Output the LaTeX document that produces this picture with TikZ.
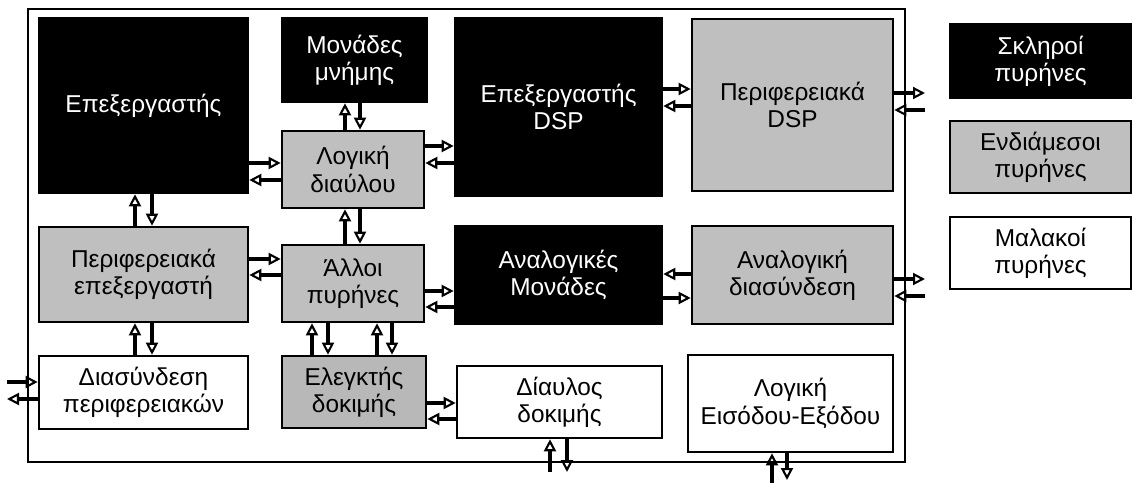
\documentclass[tikz,border=0pt]{standalone}
\usepackage{fontspec}
\setmainfont{Liberation Sans}
\usetikzlibrary{arrows.meta}

\begin{document}
\begin{tikzpicture}[x=0.5pt, y=-0.5pt,
    every node/.style={font=\fontsize{12.2}{13.6}\selectfont, align=center, inner sep=0pt},
    core/.style={draw=black, line width=1.3pt, rectangle},
    hard/.style={core, fill=black, text=white},
    mid/.style={core, fill=black!25},
    soft/.style={core, fill=white},
    arr/.style={line width=1.6pt, -{Triangle[open, length=6pt, width=6pt, line width=1.05pt]}}]
    \useasboundingbox (0,0) rectangle (1132,483);
    \draw[line width=0.8pt] (28,9) rectangle (905,462);
    % blocks
    \node[hard, minimum width=104.5pt, minimum height=87.5pt] (cpu) at (143.5,105.5) {Επεξεργαστής};
    \node[hard, minimum width=72.5pt, minimum height=42pt] (mem) at (354.5,60) {Μονάδες\\μνήμης};
    \node[mid, minimum width=71pt, minimum height=38.5pt] (bus) at (353,169.5) {Λογική\\διαύλου};
    \node[hard, minimum width=103.5pt, minimum height=89pt] (dsp) at (558.5,107) {Επεξεργαστής\\DSP};
    \node[mid, minimum width=100.5pt, minimum height=86pt] (pdsp) at (792.5,105) {Περιφερειακά\\DSP};
    \node[mid, minimum width=104.5pt, minimum height=47.5pt] (pcpu) at (143.5,274.5) {Περιφερειακά\\επεξεργαστή};
    \node[mid, minimum width=71pt, minimum height=38.5pt] (other) at (353,283.5) {Άλλοι\\πυρήνες};
    \node[hard, minimum width=103.5pt, minimum height=49pt] (ana) at (558.5,275) {Αναλογικές\\Μονάδες};
    \node[mid, minimum width=100.5pt, minimum height=49pt] (aif) at (792.5,275) {Αναλογική\\διασύνδεση};
    \node[soft, minimum width=104.5pt, minimum height=36.5pt] (pif) at (143.5,392.5) {Διασύνδεση\\περιφερειακών};
    \node[mid, fill=black!28, minimum width=72pt, minimum height=36pt] (tctl) at (354,392) {Ελεγκτής\\δοκιμής};
    \node[soft, minimum width=102.5pt, minimum height=36pt] (tbus) at (559.5,402) {Δίαυλος\\δοκιμής};
    \node[soft, minimum width=102.5pt, minimum height=48.5pt] (io) at (790.5,403.5) {Λογική\\Εισόδου-Εξόδου};
    % legend
    \node[hard, minimum width=90.5pt, minimum height=37pt] (lhard) at (1040.5,61) {Σκληροί\\πυρήνες};
    \node[mid, minimum width=90.5pt, minimum height=36pt] (lmid) at (1040.5,157) {Ενδιάμεσοι\\πυρήνες};
    \node[soft, minimum width=90.5pt, minimum height=36pt] (lsoft) at (1040.5,253) {Μαλακοί\\πυρήνες};
    % free ends
    \coordinate (rout) at (925,0);
    \coordinate (lout) at (7,0);
    \coordinate (tbend) at (0,472);
    \coordinate (ioend) at (0,483);
    % horizontal links
    \draw[arr] (cpu.east |- 0,163) -- (bus.west |- 0,163);
    \draw[arr] (bus.west |- 0,180) -- (cpu.east |- 0,180);
    \draw[arr] (bus.east |- 0,146) -- (dsp.west |- 0,146);
    \draw[arr] (dsp.west |- 0,163) -- (bus.east |- 0,163);
    \draw[arr] (dsp.east |- 0,89) -- (pdsp.west |- 0,89);
    \draw[arr] (pdsp.west |- 0,106) -- (dsp.east |- 0,106);
    \draw[arr] (pdsp.east |- 0,93) -- (rout |- 0,93);
    \draw[arr] (rout |- 0,110) -- (pdsp.east |- 0,110);
    \draw[arr] (pcpu.east |- 0,259) -- (other.west |- 0,259);
    \draw[arr] (other.west |- 0,275) -- (pcpu.east |- 0,275);
    \draw[arr] (other.east |- 0,291) -- (ana.west |- 0,291);
    \draw[arr] (ana.west |- 0,307) -- (other.east |- 0,307);
    \draw[arr] (aif.west |- 0,274) -- (ana.east |- 0,274);
    \draw[arr] (ana.east |- 0,298) -- (aif.west |- 0,298);
    \draw[arr] (aif.east |- 0,279) -- (rout |- 0,279);
    \draw[arr] (rout |- 0,296) -- (aif.east |- 0,296);
    \draw[arr] (lout |- 0,382) -- (pif.west |- 0,382);
    \draw[arr] (pif.west |- 0,399) -- (lout |- 0,399);
    \draw[arr] (tctl.east |- 0,403) -- (tbus.west |- 0,403);
    \draw[arr] (tbus.west |- 0,419) -- (tctl.east |- 0,419);
    % vertical links
    \draw[arr] (bus.north -| 345,0) -- (mem.south -| 345,0);
    \draw[arr] (mem.south -| 360,0) -- (bus.north -| 360,0);
    \draw[arr] (pcpu.north -| 135,0) -- (cpu.south -| 135,0);
    \draw[arr] (cpu.south -| 152,0) -- (pcpu.north -| 152,0);
    \draw[arr] (other.north -| 345,0) -- (bus.south -| 345,0);
    \draw[arr] (bus.south -| 360,0) -- (other.north -| 360,0);
    \draw[arr] (pif.north -| 135,0) -- (pcpu.south -| 135,0);
    \draw[arr] (pcpu.south -| 152,0) -- (pif.north -| 152,0);
    \foreach \xa/\xb in {312/328, 377/392}{
        \draw[arr] (tctl.north -| \xa,0) -- (other.south -| \xa,0);
        \draw[arr] (other.south -| \xb,0) -- (tctl.north -| \xb,0);
    }
    \draw[arr] (tbend -| 550,0) -- (tbus.south -| 550,0);
    \draw[arr] (tbus.south -| 567,0) -- (tbend -| 567,0);
    \draw[arr] (ioend -| 772,0) -- (io.south -| 772,0);
    \draw[arr] (io.south -| 787,0) -- (0,480 -| 787,0);
\end{tikzpicture}
\end{document}
